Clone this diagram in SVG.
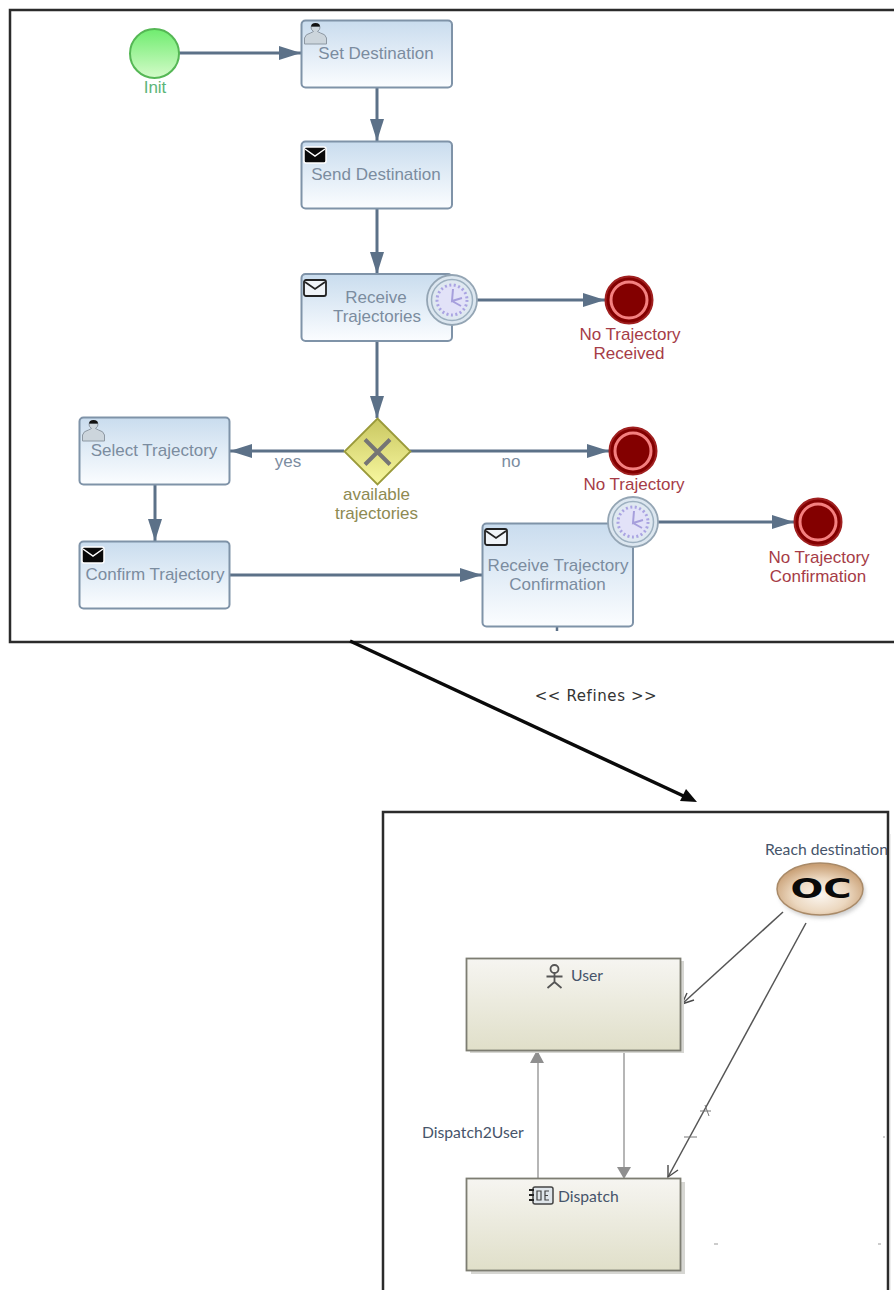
<svg xmlns="http://www.w3.org/2000/svg" width="894" height="1290" viewBox="0 0 894 1290">
<style>
.task{fill:url(#tg);stroke:#7f93a8;stroke-width:2}
.flow{fill:none;stroke:#5c7188;stroke-width:3;marker-end:url(#fa)}
.lb{font-family:"Liberation Sans",Arial,sans-serif;font-size:17px;text-anchor:middle}
.tl{fill:#7b8c9f}
.rd{fill:#a63c47}
.sm{font-family:Lato,"Noto Sans",sans-serif;font-size:15.700px;fill:#46546a}
.frame{fill:none;stroke:#2b2b2b;stroke-width:2.500}
.eb{fill:url(#bg);stroke:#7d7d72;stroke-width:1.800}
.sh{fill:#d6d6d2}
.thin{fill:none;stroke:#555;stroke-width:1.500}
.gl{fill:none;stroke:#a4a4a4;stroke-width:1.600}
.hd{fill:none;stroke:#4a4a4a;stroke-width:1.400}
</style>
<defs>
<linearGradient id="tg" x1="0" y1="0" x2="0" y2="1"><stop offset="0" stop-color="#c9dcee"/><stop offset="1" stop-color="#fbfdff"/></linearGradient>
<linearGradient id="sg" x1="0" y1="0" x2="0" y2="1"><stop offset="0" stop-color="#6fec6f"/><stop offset="1" stop-color="#d4fbc9"/></linearGradient>
<linearGradient id="gg" x1="0" y1="0" x2="0" y2="1"><stop offset="0" stop-color="#c9c761"/><stop offset="1" stop-color="#f8f8a0"/></linearGradient>
<linearGradient id="bg" x1="0" y1="0" x2="0" y2="1"><stop offset="0" stop-color="#f6f5f1"/><stop offset="1" stop-color="#e0dfc9"/></linearGradient>
<radialGradient id="og" cx=".5" cy=".62" r=".58"><stop offset="0" stop-color="#fbf6f0"/><stop offset=".55" stop-color="#ecd8c0"/><stop offset="1" stop-color="#c9a076"/></radialGradient>
<radialGradient id="tmg" cx=".5" cy=".5" r=".5"><stop offset="0" stop-color="#e9edf5"/><stop offset="1" stop-color="#dbe6ef"/></radialGradient>
<marker id="fa" markerUnits="userSpaceOnUse" markerWidth="24" markerHeight="16" refX="22" refY="7" orient="auto"><path d="M0 0L22 7L0 14Z" fill="#5c7188"/></marker>
<filter id="blurS" x="-20%" y="-20%" width="140%" height="140%"><feGaussianBlur stdDeviation="2"/></filter>
<g id="env"><rect x="0" y="0" width="22" height="16" rx="2"/><path d="M1 2L11 9L21 2" fill="none"/></g>
<g id="usr"><path d="M0.500 21v-6q1-4 6-5l3-1.500q-3-2-2.500-5h9q.5 3-2.500 5l3 1.500q5 1 6 5v6z" fill="#ccd5dc" stroke="#8d98a3" stroke-width="1"/><path d="M7 3.500q0-3.500 4.500-3.500t4.500 3.500z" fill="#111"/></g>
<g id="clock">
<circle r="25" fill="url(#tmg)" stroke="#94a5b4" stroke-width="1.800"/>
<circle r="20.500" fill="none" stroke="#9db0c0" stroke-width="1.500"/>
<circle r="15" fill="#e2e2f8" stroke="#aaa4e2" stroke-width="3" stroke-dasharray="2 2.500"/>
<path d="M1 -11L0 1L10 -2M0 1L9 6" fill="none" stroke="#a69fdc" stroke-width="2"/>
</g>
<g id="endEv"><circle r="23.500" fill="#830000" stroke="#a02020" stroke-width="2"/><circle r="18" fill="#830000" stroke="#f48080" stroke-width="3"/></g>
</defs>
<rect width="894" height="1290" fill="#fff"/>

<g id="frames">
<path class="frame" d="M894 10H10V642H894"/>
<path class="frame" d="M383 1290V812H888V1290"/>
<path d="M890.500 834V1290" stroke="#eeeeee" stroke-width="1"/>
</g>

<g id="connectors">
<path class="flow" d="M179 53H301"/>
<path class="flow" d="M377 88V141"/>
<path class="flow" d="M377 209V274"/>
<path class="flow" d="M377 341V418"/>
<path class="flow" d="M477 300H605"/>
<path class="flow" d="M344 451H230"/>
<path class="flow" d="M410 451H609"/>
<path class="flow" d="M155 485V541"/>
<path class="flow" d="M230 575H482"/>
<path class="flow" d="M658 522H794"/>
<path d="M557 627V631" stroke="#5c7188" stroke-width="2.500"/>
<path d="M350 641L690 799" fill="none" stroke="#0a0a0a" stroke-width="3.500"/>
<path d="M697 802L680 801L686 789Z" fill="#0a0a0a"/>
<path class="thin" d="M783 912L682 1004"/><path class="hd" d="M687 993L682 1004L694 1000"/>
<path class="thin" d="M806 923L668 1177"/><path class="hd" d="M668 1165L668 1177L678 1170"/>
<path class="gl" d="M538 1178V1052"/><path d="M537 1050L530 1063H544Z" fill="#8f8f8f"/>
<path class="gl" d="M624 1050V1170"/><path d="M624 1179L617 1167H631Z" fill="#8f8f8f"/>
<path d="M700 1111H711M705 1105L709 1116M684 1137H697" stroke="#777" stroke-width="1" fill="none"/>
<path d="M883 1137h2M714 1244h4M878 1244h3M535 1272h3M626 1272h2M670 1272h2" stroke="#999" stroke-width="1"/>
</g>

<text id="refines" x="596" y="701" font-family="'DejaVu Sans',sans-serif" font-size="15" letter-spacing=".6" text-anchor="middle" fill="#333">&lt;&lt; Refines &gt;&gt;</text>

<g id="init"><circle cx="154.500" cy="53.500" r="24.500" fill="url(#sg)" stroke="#55b755" stroke-width="2"/><text class="lb" x="155" y="93" fill="#5cb578">Init</text></g>

<g id="setDest"><rect class="task" x="301.500" y="20.500" width="150.500" height="67" rx="4"/><use href="#usr" transform="translate(304 23)"/><text class="lb tl" x="376" y="59">Set Destination</text></g>
<g id="sendDest"><rect class="task" x="301.500" y="141.500" width="150.500" height="67" rx="4"/><use href="#env" transform="translate(304 147)" fill="#0a0a0a" stroke="#fff" stroke-width="1.500"/><text class="lb tl" x="376" y="180">Send Destination</text></g>
<g id="recvTraj"><rect class="task" x="301.500" y="274" width="150.500" height="67" rx="4"/><use href="#env" transform="translate(304 280)" fill="#f0f4f8" stroke="#222" stroke-width="1.800"/><text class="lb tl" x="376" y="303">Receive</text><text class="lb tl" x="377" y="322">Trajectories</text><use href="#clock" transform="translate(452 300)"/></g>
<g id="end1"><use href="#endEv" transform="translate(629 300)"/><text class="lb rd" x="630" y="340">No Trajectory</text><text class="lb rd" x="629" y="359">Received</text></g>
<g id="gateway"><path d="M377.500 418.500L410.500 451.500L377.500 484.500L344.500 451.500Z" fill="url(#gg)" stroke="#9a9a3a" stroke-width="1.800"/><path d="M365 439.500L390 464.500M390 439.500L365 464.500" stroke="#757575" stroke-width="4"/><text class="lb" x="376.500" y="500" fill="#8e8a52">available</text><text class="lb" x="376.500" y="519" fill="#8e8a52">trajectories</text></g>
<text id="lblYes" class="lb tl" x="288" y="467">yes</text>
<text id="lblNo" class="lb tl" x="511" y="467">no</text>
<g id="end2"><use href="#endEv" transform="translate(633 451)"/><text class="lb rd" x="634" y="490">No Trajectory</text></g>
<g id="selTraj"><rect class="task" x="79.500" y="417.500" width="150" height="67" rx="4"/><use href="#usr" transform="translate(82 420)"/><text class="lb tl" x="154" y="456">Select Trajectory</text></g>
<g id="confTraj"><rect class="task" x="79.500" y="541.500" width="150" height="67" rx="4"/><use href="#env" transform="translate(82 547)" fill="#0a0a0a" stroke="#fff" stroke-width="1.500"/><text class="lb tl" x="155" y="580">Confirm Trajectory</text></g>
<g id="recvConf"><rect class="task" x="482.500" y="523.500" width="150.500" height="103" rx="4"/><use href="#env" transform="translate(485 529)" fill="#f0f4f8" stroke="#222" stroke-width="1.800"/><text class="lb tl" x="558" y="571">Receive Trajectory</text><text class="lb tl" x="557.500" y="590">Confirmation</text><use href="#clock" transform="translate(633 522)"/></g>
<g id="end3"><use href="#endEv" transform="translate(818 522)"/><text class="lb rd" x="819" y="563">No Trajectory</text><text class="lb rd" x="818" y="582">Confirmation</text></g>

<g id="oc"><text class="sm" x="765" y="855">Reach destination</text><ellipse cx="822" cy="892" rx="43" ry="26" fill="#999" opacity=".5" filter="url(#blurS)"/><ellipse cx="820" cy="889" rx="43" ry="26" fill="url(#og)" stroke="#a98a68" stroke-width="1.500"/><text x="821" y="898" font-family="'DejaVu Sans',sans-serif" font-weight="bold" font-size="26" text-anchor="middle" textLength="61" lengthAdjust="spacingAndGlyphs" fill="#0a0a0a">OC</text></g>

<g id="user"><rect class="sh" x="470" y="961" width="214" height="92"/><rect class="eb" x="466.500" y="958.500" width="214" height="92"/><g fill="none" stroke="#555" stroke-width="1.800"><circle cx="554.500" cy="969" r="4"/><path d="M554.500 973V982M546.500 976.500H562.500M554.500 982L547.500 988M554.500 982L561.500 988"/></g><text class="sm" x="571" y="981">User</text></g>

<text id="lblD2U" class="sm" x="422" y="1138">Dispatch2User</text>

<g id="dispatch"><rect class="sh" x="471" y="1182" width="214" height="92"/><rect class="eb" x="466.500" y="1178.500" width="214" height="92"/><rect x="533" y="1187" width="20" height="17" rx="2" fill="#dfe5ea" stroke="#444" stroke-width="1.500"/><path d="M529 1190h5M529 1195h5M529 1200h5" stroke="#222" stroke-width="2"/><path d="M537 1191h4v9h-4zM549 1191h-4v9h4M545 1195.500h3" fill="none" stroke="#444" stroke-width="1.200"/><text class="sm" x="558" y="1202">Dispatch</text></g>
</svg>
